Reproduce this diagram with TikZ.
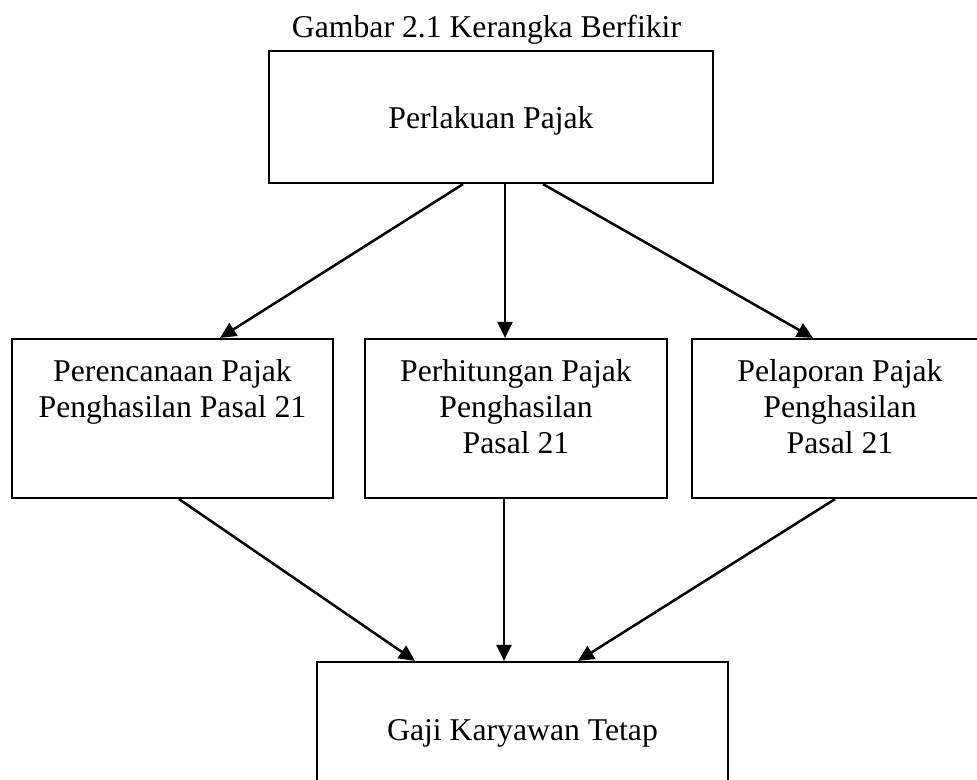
\documentclass[tikz,border=0pt]{standalone}
\usepackage{fontspec}
\setmainfont{Liberation Serif}
\usetikzlibrary{arrows.meta,calc}
\begin{document}
\begin{tikzpicture}[x=1pt,y=-1pt,
  box/.style={draw,line width=2.2pt,rectangle,inner sep=0pt},
  txt/.style={font=\fontsize{31.7}{36}\selectfont,anchor=base,inner sep=0pt},
  arr/.style={line width=2.5pt,-{Triangle[length=16pt,width=15pt]}}]
\useasboundingbox (0,0) rectangle (977,779);
\clip (0,0) rectangle (977,779);
% title
\node[txt] (title) at (486.5,37) {Gambar 2.1 Kerangka Berfikir};
% boxes
\node[box,minimum width=444pt,minimum height=132pt] (T) at (491,117) {};
\node[box,minimum width=321pt,minimum height=159pt] (L) at (172.5,418.5) {};
\node[box,minimum width=302pt,minimum height=159pt] (M) at (516,418.5) {};
\node[box,minimum width=296pt,minimum height=159pt] (R) at (840,418.5) {};
\node[box,minimum width=411pt,minimum height=200pt] (B) at (522.5,762) {};
% texts
\node[txt] (tT) at (491,128) {Perlakuan Pajak};
\node[txt] (tL1) at (172.5,381) {Perencanaan Pajak};
\node[txt] (tL2) at (172.5,417) {Penghasilan Pasal 21};
\node[txt] (tM1) at (516,381) {Perhitungan Pajak};
\node[txt] (tM2) at (516,417) {Penghasilan};
\node[txt] (tM3) at (516,453) {Pasal 21};
\node[txt] (tR1) at (840,381) {Pelaporan Pajak};
\node[txt] (tR2) at (840,417) {Penghasilan};
\node[txt] (tR3) at (840,453) {Pasal 21};
\node[txt] (tB) at (522.5,740) {Gaji Karyawan Tetap};
% arrows
\draw[arr] ([xshift=-28pt]T.south) -- ([xshift=47.5pt]L.north);
\draw[arr] ([xshift=14pt]T.south) -- ([xshift=-11pt]M.north);
\draw[arr] ([xshift=52pt]T.south) -- ([xshift=-27pt]R.north);
\draw[arr] ([xshift=6.5pt]L.south) -- ([xshift=-107.5pt]B.north);
\draw[arr] ([xshift=-12pt]M.south) -- ([xshift=-18.5pt]B.north);
\draw[arr] ([xshift=-5pt]R.south) -- ([xshift=55.5pt]B.north);
\end{tikzpicture}
\end{document}
